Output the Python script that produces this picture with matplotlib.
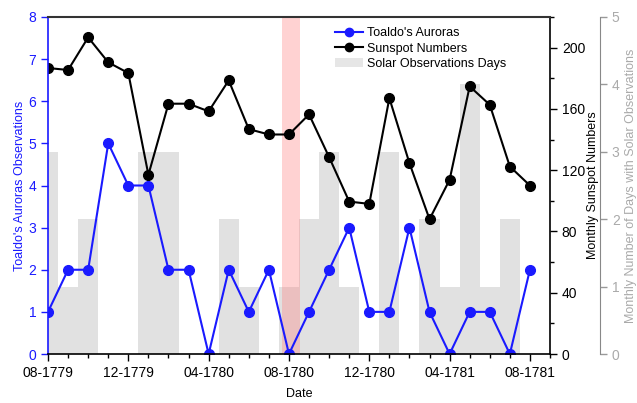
import matplotlib
matplotlib.use("Agg")
import matplotlib.pyplot as plt
from matplotlib.ticker import MultipleLocator
from matplotlib.lines import Line2D
from matplotlib.patches import Patch

plt.rcParams['font.family'] = ['Liberation Sans', 'DejaVu Sans']

months = list(range(25))
tick_pos = [0, 4, 8, 12, 16, 20, 24]
tick_labels = ["08-1779", "12-1779", "04-1780", "08-1780", "12-1780", "04-1781", "08-1781"]

auroras = [1, 2, 2, 5, 4, 4, 2, 2, 0, 2, 1, 2, 0, 1, 2, 3, 1, 1, 3, 1, 0, 1, 1, 0, 2]
sunspots = [186.7, 185.4, 206.7, 190.4, 183.4, 117.0, 163.4, 163.4, 158.4, 178.6,
            146.8, 143.3, 143.3, 156.4, 128.5, 99.5, 98.0, 167.0, 124.6, 88.0,
            113.7, 174.7, 162.7, 122.4, 110.0]
obs_days = [3, 1, 2, 0, 0, 3, 3, 0, 0, 2, 1, 0, 1, 2, 3, 1, 0, 3, 0, 2, 1, 4, 1, 2, 0]
highlight = (11.65, 12.55)

W, H = 637, 403
fig = plt.figure(figsize=(W / 100, H / 100), dpi=100)
pos = [48 / W, 1 - 354 / H, (550 - 48) / W, (354 - 17) / H]

ax = fig.add_axes(pos)
ax2 = ax.twinx()
ax3 = ax.twinx()
ax3.set_zorder(0)
ax2.set_zorder(1)
ax.set_zorder(2)
ax.patch.set_visible(False)
ax2.patch.set_visible(False)

gray_bar = '#dcdcdc'
ax3.bar(months, obs_days, width=1.0, color=gray_bar, alpha=0.85, linewidth=0)
ax3.axvspan(highlight[0], highlight[1], color='#ff8080', alpha=0.35, linewidth=0)
ax3.set_ylim(0, 5)
ax3.spines['right'].set_position(('axes', 1 + 50 / 502))
for s in ['left', 'top', 'bottom']:
    ax3.spines[s].set_visible(False)
ax3.spines['right'].set_color('#888888')
ax3.yaxis.set_major_locator(MultipleLocator(1))
ax3.tick_params(axis='y', colors='#999999', labelcolor='#aaaaaa', labelsize=10,
                direction='out', length=5, width=1)
ax3.set_ylabel("Monthly Number of Days with Solar Observations", color='#aaaaaa',
               fontsize=9, labelpad=4)

ax2.plot(months, sunspots, color='black', lw=1.5, marker='o', ms=7)
ax2.set_ylim(0, 220)
ax2.yaxis.set_major_locator(MultipleLocator(40))
ax2.yaxis.set_minor_locator(MultipleLocator(20))
ax2.tick_params(axis='y', which='major', labelsize=10, direction='out', length=5, width=1)
ax2.tick_params(axis='y', which='minor', direction='out', length=3, width=1)
ax2.set_ylabel("Monthly Sunspot Numbers", fontsize=9, labelpad=1)
for s in ['left', 'top', 'bottom']:
    ax2.spines[s].set_visible(False)
ax2.spines['right'].set_linewidth(1.2)

blue = '#1a1aff'
ax.plot(months, auroras, color=blue, lw=1.5, marker='o', ms=7)
ax.set_xlim(0, 25)
ax.set_ylim(0, 8)
ax.yaxis.set_major_locator(MultipleLocator(1))
ax.set_xticks(tick_pos)
ax.set_xticklabels(tick_labels)
ax.xaxis.set_minor_locator(MultipleLocator(1))
ax.tick_params(axis='x', which='major', labelsize=10, direction='out', length=5, width=1)
ax.tick_params(axis='x', which='minor', direction='out', length=3, width=1)
ax.tick_params(axis='y', colors=blue, labelsize=10, direction='out', length=5, width=1)
ax.set_ylabel("Toaldo's Auroras Observations", color=blue, fontsize=9, labelpad=2)
ax.set_xlabel("Date", fontsize=9, labelpad=6)
ax.spines['left'].set_color(blue)
ax.spines['left'].set_linewidth(1.2)
ax.spines['right'].set_visible(False)
ax.spines['top'].set_color('#333333')
ax.spines['top'].set_linewidth(1.5)
ax.spines['bottom'].set_linewidth(1.2)

handles = [Line2D([], [], color=blue, lw=1.5, marker='o', ms=6),
           Line2D([], [], color='black', lw=1.5, marker='o', ms=6),
           Patch(facecolor='#e6e6e6', edgecolor='none')]
ax.legend(handles, ["Toaldo's Auroras", "Sunspot Numbers", "Solar Observations Days"],
          loc='upper left', bbox_to_anchor=(0.555, 0.995), frameon=False, fontsize=9,
          handlelength=2.2, handletextpad=0.3, labelspacing=0.25, borderaxespad=0.3)

fig.savefig("out.png", dpi=100)
